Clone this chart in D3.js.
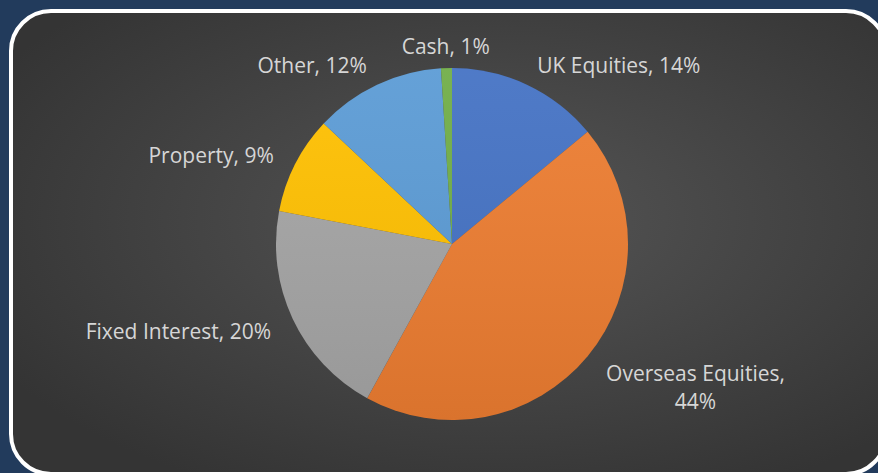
<!DOCTYPE html>
<html>
<head>
<meta charset="utf-8">
<script src="https://cdn.jsdelivr.net/npm/d3@7"></script>
<style>
  html, body { margin: 0; padding: 0; background: #223b5c; }
  svg { display: block; }
</style>
</head>
<body>
<svg id="chart" width="878" height="473"></svg>
<script>
// asset allocation, clockwise from 12 o'clock
const categories = ["UK Equities", "Overseas Equities", "Fixed Interest", "Property", "Other", "Cash"];
const shares = [14, 44, 20, 9, 12, 1];
const sliceColors = ["#4472c4", "#ed7d31", "#a5a5a5", "#ffc000", "#5b9bd5", "#70ad47"];

const width = 878, height = 473;
const cx = 452, cy = 244, radius = 176;
const labelRadius = 200;
const fontSize = 21;
const lineHeight = 28;

const data = categories.map((c, i) => ({ label: c, value: shares[i] }));

const svg = d3.select("#chart");
const defs = svg.append("defs");

// dark grey plot panel, lighter in the middle
const bg = defs.append("radialGradient").attr("id", "panelGrad")
    .attr("cx", "55%").attr("cy", "45%").attr("r", "65%");
bg.append("stop").attr("offset", "0%").attr("stop-color", "#555555");
bg.append("stop").attr("offset", "100%").attr("stop-color", "#343434");

// soft light-to-dark sheen over the slices
const sheen = defs.append("linearGradient").attr("id", "sheen")
    .attr("x1", 0).attr("y1", 0).attr("x2", 0).attr("y2", 1);
sheen.append("stop").attr("offset", "0%").attr("stop-color", "#ffffff").attr("stop-opacity", 0.06);
sheen.append("stop").attr("offset", "100%").attr("stop-color", "#000000").attr("stop-opacity", 0.08);

svg.append("rect")
    .attr("width", width).attr("height", height)
    .attr("fill", "#223b5c");

svg.append("rect")
    .attr("x", 11).attr("y", 11)
    .attr("width", 875).attr("height", 463)
    .attr("rx", 40).attr("ry", 40)
    .attr("fill", "url(#panelGrad)")
    .attr("stroke", "#ffffff")
    .attr("stroke-width", 4);

const chart = svg.append("g").attr("transform", "translate(" + cx + "," + cy + ")");

const pie = d3.pie().value(d => d.value).sort(null);
const arc = d3.arc().innerRadius(0).outerRadius(radius);
const labelArc = d3.arc().innerRadius(labelRadius).outerRadius(labelRadius);

const arcs = pie(data);

chart.selectAll("path.slice")
    .data(arcs)
    .enter()
    .append("path")
    .attr("class", "slice")
    .attr("d", arc)
    .attr("fill", (d, i) => sliceColors[i % sliceColors.length]);

chart.append("circle")
    .attr("r", radius)
    .attr("fill", "url(#sheen)")
    .style("pointer-events", "none");

// data labels: "Category, NN%", long ones wrapped after the comma
const labels = chart.selectAll("text.label")
    .data(arcs)
    .enter()
    .append("text")
    .attr("class", "label")
    .style("font-family", "'Open Sans', sans-serif")
    .style("font-size", fontSize + "px")
    .style("fill", "#d6d6d6");

labels.each(function (d) {
    const t = d3.select(this);
    const full = d.data.label + ", " + d.data.value + "%";
    const lines = full.length > 20 ? [d.data.label + ",", d.data.value + "%"] : [full];
    const [px, py] = labelArc.centroid(d);
    const mid = (d.startAngle + d.endAngle) / 2;

    lines.forEach((ln, k) => {
        t.append("tspan").attr("dy", k === 0 ? 0 : lineHeight).text(ln);
    });

    // measure widest line so multi-line blocks are centred on themselves
    let w = 0;
    t.selectAll("tspan").each(function () { w = Math.max(w, this.getComputedTextLength()); });

    let x;
    if (px > 10) x = px + w / 2;
    else if (px < -10) x = px - w / 2;
    else x = px;

    const y = py + fontSize * 0.45;
    t.attr("text-anchor", "middle").attr("y", y);
    t.selectAll("tspan").attr("x", x);
    if (lines.length > 1 && Math.cos(mid) > 0) {
        // upper half: grow upward
        t.attr("y", y - (lines.length - 1) * lineHeight);
    }
});
</script>
</body>
</html>
